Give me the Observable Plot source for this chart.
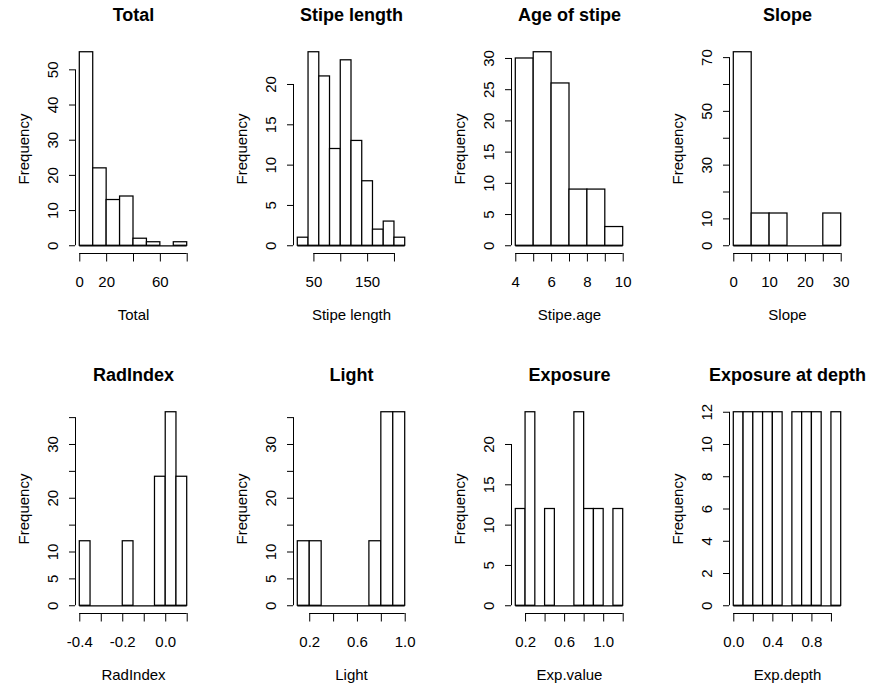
<!DOCTYPE html>
<html>
<head>
<meta charset="utf-8">
<script src="https://cdn.jsdelivr.net/npm/d3@7"></script>
<script src="https://cdn.jsdelivr.net/npm/@observablehq/plot@0.6"></script>
<style>
  html, body { margin: 0; padding: 0; background: #fff; }
  #wrap { position: relative; width: 870px; height: 688px; overflow: hidden; background: #fff; }
  .panel { position: absolute; width: 218px; height: 344px; }
  .panel svg { overflow: visible; max-width: none !important; }
</style>
</head>
<body>
<div id="wrap"></div>
<script>
// ---- Titles and axis labels ----
const titles = ["Total", "Stipe length", "Age of stipe", "Slope", "RadIndex", "Light", "Exposure", "Exposure at depth"];
const xAxisLabels = ["Total", "Stipe length", "Stipe.age", "Slope", "RadIndex", "Light", "Exp.value", "Exp.depth"];

// ---- Histogram breaks and counts ----
const totalBreaks = [0, 10, 20, 30, 40, 50, 60, 70, 80];
const totalCounts = [55, 22, 13, 14, 2, 1, 0, 1];

const stipeBreaks = [20, 40, 60, 80, 100, 120, 140, 160, 180, 200, 220];
const stipeCounts = [1, 24, 21, 12, 23, 13, 8, 2, 3, 1];

const ageBreaks = [4, 5, 6, 7, 8, 9, 10];
const ageCounts = [30, 31, 26, 9, 9, 3];

const slopeBreaks = [0, 5, 10, 15, 20, 25, 30];
const slopeCounts = [72, 12, 12, 0, 0, 12];

const radBreaks = [-0.4, -0.35, -0.3, -0.25, -0.2, -0.15, -0.1, -0.05, 0, 0.05, 0.1];
const radCounts = [12, 0, 0, 0, 12, 0, 0, 24, 36, 24];

const lightBreaks = [0.1, 0.2, 0.3, 0.4, 0.5, 0.6, 0.7, 0.8, 0.9, 1.0];
const lightCounts = [12, 12, 0, 0, 0, 0, 12, 36, 36];

const expBreaks = [0.1, 0.2, 0.3, 0.4, 0.5, 0.6, 0.7, 0.8, 0.9, 1.0, 1.1, 1.2];
const expCounts = [12, 24, 0, 12, 0, 0, 24, 12, 12, 0, 12];

const depthBreaks = [0, 0.1, 0.2, 0.3, 0.4, 0.5, 0.6, 0.7, 0.8, 0.9, 1.0, 1.1];
const depthCounts = [12, 12, 12, 12, 12, 0, 12, 12, 12, 0, 12];

// ---- Tick values and tick labels (R drops overlapping labels) ----
const totalXTicks = [0, 20, 40, 60, 80];
const totalXLabels = ["0", "20", "", "60", ""];
const totalYTicks = [0, 10, 20, 30, 40, 50];
const totalYLabels = ["0", "10", "20", "30", "40", "50"];

const stipeXTicks = [50, 100, 150, 200];
const stipeXLabels = ["50", "", "150", ""];
const stipeYTicks = [0, 5, 10, 15, 20];
const stipeYLabels = ["0", "5", "10", "15", "20"];

const ageXTicks = [4, 5, 6, 7, 8, 9, 10];
const ageXLabels = ["4", "", "6", "", "8", "", "10"];
const ageYTicks = [0, 5, 10, 15, 20, 25, 30];
const ageYLabels = ["0", "5", "10", "15", "20", "25", "30"];

const slopeXTicks = [0, 5, 10, 15, 20, 25, 30];
const slopeXLabels = ["0", "", "10", "", "20", "", "30"];
const slopeYTicks = [0, 10, 20, 30, 40, 50, 60, 70];
const slopeYLabels = ["0", "10", "", "30", "", "50", "", "70"];

const radXTicks = [-0.4, -0.3, -0.2, -0.1, 0.0, 0.1];
const radXLabels = ["-0.4", "", "-0.2", "", "0.0", ""];
const radYTicks = [0, 5, 10, 15, 20, 25, 30, 35];
const radYLabels = ["0", "5", "10", "", "20", "", "30", ""];

const lightXTicks = [0.2, 0.4, 0.6, 0.8, 1.0];
const lightXLabels = ["0.2", "", "0.6", "", "1.0"];
const lightYTicks = [0, 5, 10, 15, 20, 25, 30, 35];
const lightYLabels = ["0", "5", "10", "", "20", "", "30", ""];

const expXTicks = [0.2, 0.4, 0.6, 0.8, 1.0, 1.2];
const expXLabels = ["0.2", "", "0.6", "", "1.0", ""];
const expYTicks = [0, 5, 10, 15, 20];
const expYLabels = ["0", "5", "10", "15", "20"];

const depthXTicks = [0.0, 0.2, 0.4, 0.6, 0.8, 1.0];
const depthXLabels = ["0.0", "", "0.4", "", "0.8", ""];
const depthYTicks = [0, 2, 4, 6, 8, 10, 12];
const depthYLabels = ["0", "2", "4", "6", "8", "10", "12"];

// ---- Assemble panels ----
const panels = [
  {breaks: totalBreaks, counts: totalCounts, xt: totalXTicks, xl: totalXLabels, yt: totalYTicks, yl: totalYLabels},
  {breaks: stipeBreaks, counts: stipeCounts, xt: stipeXTicks, xl: stipeXLabels, yt: stipeYTicks, yl: stipeYLabels},
  {breaks: ageBreaks, counts: ageCounts, xt: ageXTicks, xl: ageXLabels, yt: ageYTicks, yl: ageYLabels},
  {breaks: slopeBreaks, counts: slopeCounts, xt: slopeXTicks, xl: slopeXLabels, yt: slopeYTicks, yl: slopeYLabels},
  {breaks: radBreaks, counts: radCounts, xt: radXTicks, xl: radXLabels, yt: radYTicks, yl: radYLabels},
  {breaks: lightBreaks, counts: lightCounts, xt: lightXTicks, xl: lightXLabels, yt: lightYTicks, yl: lightYLabels},
  {breaks: expBreaks, counts: expCounts, xt: expXTicks, xl: expXLabels, yt: expYTicks, yl: expYLabels},
  {breaks: depthBreaks, counts: depthCounts, xt: depthXTicks, xl: depthXLabels, yt: depthYTicks, yl: depthYLabels}
].map((p, i) => ({...p, title: titles[i], xlab: xAxisLabels[i]}));

const FONT = "'Liberation Sans', Arial, Helvetica, sans-serif";
const COL_W = 218, ROW_H = 360;
const wrap = document.getElementById("wrap");

panels.forEach((p, i) => {
  const col = i % 4, row = Math.floor(i / 4);
  const bins = p.counts.map((c, k) => ({x1: p.breaks[k], x2: p.breaks[k + 1], count: c}));
  const xmin = p.breaks[0], xmax = p.breaks[p.breaks.length - 1];
  const xr = xmax - xmin;
  const ymax = d3.max(p.counts);
  const xdom = [xmin - 0.04 * xr, xmax + 0.04 * xr];
  const ydom = [-0.04 * ymax, 1.04 * ymax];
  const xMap = new Map(p.xt.map((t, k) => [t, p.xl[k]]));
  const yMap = new Map(p.yt.map((t, k) => [t, p.yl[k]]));

  const chart = Plot.plot({
    width: COL_W,
    height: 344,
    marginLeft: 75,
    marginRight: 27,
    marginTop: 44,
    marginBottom: 91,
    style: {fontFamily: FONT, fontSize: "15px", color: "black", background: "transparent", overflow: "visible"},
    x: {domain: xdom, axis: null},
    y: {domain: ydom, axis: null},
    marks: [
      Plot.rectY(bins, {x1: "x1", x2: "x2", y1: 0, y2: "count", fill: "white", stroke: "black", strokeWidth: 1.25, inset: 0}),
      Plot.ruleY([0], {x1: xmin, x2: xmax, stroke: "black", strokeWidth: 1.25}),
      // axis lines, from first to last tick, as in R
      Plot.ruleY([ydom[0]], {x1: p.xt[0], x2: p.xt[p.xt.length - 1], stroke: "black", strokeWidth: 1}),
      Plot.ruleX([xdom[0]], {y1: p.yt[0], y2: p.yt[p.yt.length - 1], stroke: "black", strokeWidth: 1}),
      Plot.axisX({ticks: p.xt, label: null, tickSize: 8.5, tickPadding: 14.5, tickFormat: d => xMap.get(d) ?? "", fontSize: 15, stroke: "black"}),
      Plot.axisY({ticks: p.yt, label: null, tickSize: 6, tickPadding: 12, tickRotate: -90, tickFormat: d => yMap.get(d) ?? "", fontSize: 15, stroke: "black"}),
      Plot.text([p.title], {text: d => d, frameAnchor: "top", dy: -24, lineAnchor: "bottom", fontWeight: "bold", fontSize: 18, fill: "black"}),
      Plot.text(["Frequency"], {text: d => d, frameAnchor: "left", dx: -47, rotate: -90, lineAnchor: "bottom", textAnchor: "middle", fontSize: 15, fill: "black"}),
      Plot.text([p.xlab], {text: d => d, frameAnchor: "bottom", dy: 66, lineAnchor: "bottom", fontSize: 15, fill: "black"})
    ]
  });
  const div = document.createElement("div");
  div.className = "panel";
  div.style.left = (col * COL_W) + "px";
  div.style.top = (row * ROW_H) + "px";
  div.appendChild(chart);
  wrap.appendChild(div);
});
</script>
</body>
</html>
